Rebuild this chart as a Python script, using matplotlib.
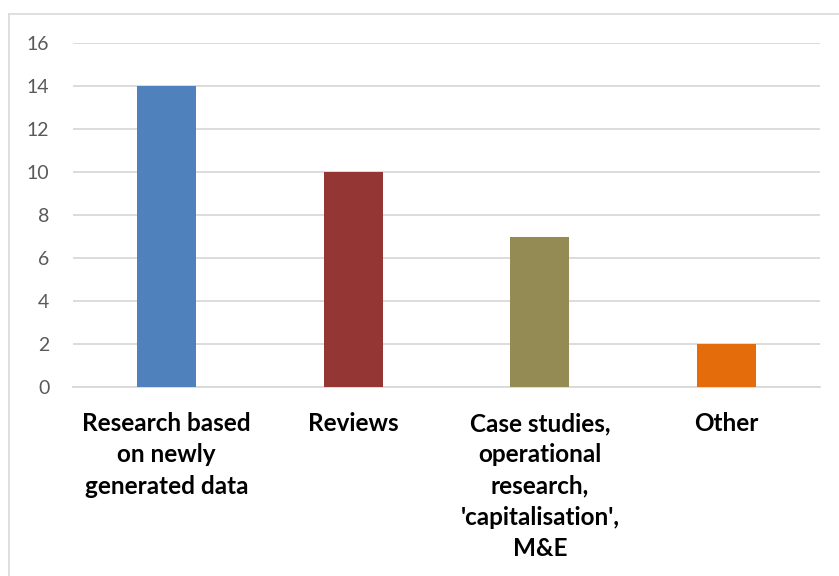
import matplotlib.pyplot as plt
from matplotlib.lines import Line2D

# dados do grafico
categorias = ["Research based\non newly\ngenerated data", "Reviews",
              "Case studies,\noperational\nresearch,\n'capitalisation',\nM&E", "Other"]
valores = [14, 10, 7, 2]
cores = ["#4F81BD", "#943634", "#948A54", "#E46C0A"]
yticks = [0, 2, 4, 6, 8, 10, 12, 14, 16]

plt.rcParams["font.family"] = ["Lato", "DejaVu Sans"]

fig = plt.figure(figsize=(8.39, 5.76), dpi=100)
# moldura do grafico (so topo e esquerda aparecem no recorte)
fx, fy = 9 / 839, 1 - 14 / 576
fig.lines.append(Line2D([fx, 1], [fy, fy], transform=fig.transFigure,
                        color="#D9D9D9", linewidth=1.2))
fig.lines.append(Line2D([fx, fx], [0, fy], transform=fig.transFigure,
                        color="#D9D9D9", linewidth=1.2))

ax = fig.add_axes([73 / 839, 1 - 387 / 576, 747 / 839, 344 / 576])
x = range(len(categorias))
ax.bar(x, valores, width=0.316, color=cores, zorder=3)

ax.set_xlim(-0.5, 3.5)
ax.set_ylim(0, 16)
ax.set_yticks(yticks)
ax.yaxis.grid(True, color="#D9D9D9", linewidth=1.3, zorder=0)
for s in ["top", "right", "left"]:
    ax.spines[s].set_visible(False)
ax.spines["bottom"].set_color("#D9D9D9")
ax.spines["bottom"].set_linewidth(1.3)
ax.tick_params(axis="y", length=0, labelsize=14, labelcolor="#595959", pad=17)
ax.tick_params(axis="x", length=0, pad=18)
ax.set_xticks(list(x))
ax.set_xticklabels(categorias, fontsize=17.5, fontweight="bold", color="black",
                   linespacing=1.44, va="top")

plt.savefig("out.png", dpi=100)
plt.close()
